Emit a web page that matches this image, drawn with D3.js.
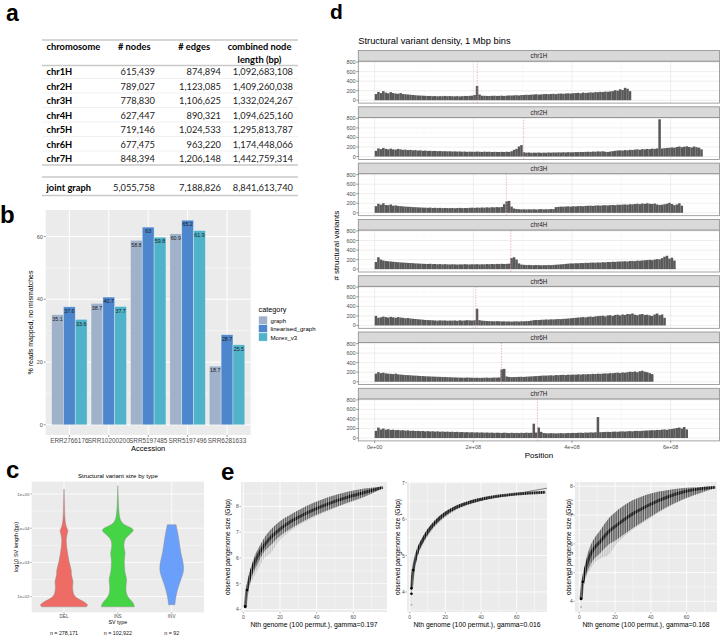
<!DOCTYPE html>
<html><head><meta charset="utf-8">
<script src="https://cdn.jsdelivr.net/npm/d3@7"></script>
<style>body{margin:0;background:#fff}svg{display:block;font-family:"Liberation Sans",Arial,sans-serif}</style>
</head><body><svg width="722" height="637"></svg>
<script>
// ================= DATA =================
// (a) table
const tableHeaders = ["chromosome", "# nodes", "# edges", "combined node", "length (bp)"];
const tableChrom = ["chr1H", "chr2H", "chr3H", "chr4H", "chr5H", "chr6H", "chr7H"];
const tableNodes = [615439, 789027, 778830, 627447, 719146, 677475, 848394];
const tableEdges = [874894, 1123085, 1106625, 890321, 1024533, 963220, 1206148];
const tableLength = [1092683108, 1409260038, 1332024267, 1094625160, 1295813787, 1174448066, 1442759314];
const jointLabel = "joint graph";
const jointNodes = 5055758, jointEdges = 7188826, jointLength = 8841613740;

// (b) grouped bars
const accessions = ["ERR2766176", "SRR10200200", "SRR5197485", "SRR5197496", "SRR6281633"];
const categories = ["graph", "linearised_graph", "Morex_v3"];
const graphVals = [35.1, 38.7, 58.8, 60.9, 18.7];
const linearisedVals = [37.6, 40.7, 63, 65.2, 28.7];
const morexVals = [33.6, 37.7, 59.8, 61.9, 25.5];
const bYTicks = [0, 20, 40, 60];

// (c) violins: [log10 length, relative density]
const svTypes = ["DEL", "INS", "INV"];
const svCounts = ["n = 278,171", "n = 102,922", "n = 92"];
const delProfile = [[1.70,0.92],[1.75,1.0],[1.82,0.9],[1.9,0.68],[1.97,0.5],[2.05,0.4],[2.15,0.37],[2.25,0.35],[2.35,0.36],[2.45,0.38],[2.55,0.33],[2.65,0.3],[2.75,0.31],[2.85,0.27],[2.95,0.24],[3.05,0.2],[3.15,0.18],[3.3,0.14],[3.45,0.11],[3.6,0.09],[3.75,0.1],[3.85,0.14],[3.93,0.17],[4.0,0.12],[4.1,0.07],[4.25,0.04],[4.5,0.025],[4.8,0.015],[5.1,0.008],[5.15,0]];
const insProfile = [[1.70,0.68],[1.8,0.66],[1.9,0.52],[2.0,0.40],[2.1,0.35],[2.2,0.33],[2.35,0.34],[2.5,0.37],[2.6,0.33],[2.75,0.28],[2.9,0.27],[3.05,0.26],[3.2,0.29],[3.3,0.30],[3.4,0.26],[3.55,0.24],[3.7,0.30],[3.8,0.45],[3.88,0.6],[3.95,0.66],[4.02,0.55],[4.1,0.25],[4.2,0.12],[4.35,0.06],[4.6,0.03],[5.0,0.012],[5.25,0]];
const invProfile = [[1.76,0.13],[1.9,0.15],[2.1,0.2],[2.3,0.28],[2.5,0.38],[2.65,0.46],[2.8,0.5],[2.95,0.48],[3.1,0.44],[3.3,0.37],[3.5,0.33],[3.7,0.29],[3.9,0.24],[4.1,0.18]];
const cYTicks = [2, 3, 4, 5];
const cYTickLabels = ["1e+02", "1e+03", "1e+04", "1e+05"];

// (d) SV density, values per bin (each entry = 5 Mbp of the 1 Mbp-bin track)
const binMbp = 5;
const densChroms = ["chr1H", "chr2H", "chr3H", "chr4H", "chr5H", "chr6H", "chr7H"];
const centromereMbp = [208, 302, 267, 276, 205, 257, 330];
const chr1H = [130,175,150,190,160,145,170,150,140,135, 150,130,125,120,115,110,105,100,98,95, 92,88,90,85,88,82,86,84,90,85, 88,84,82,86,80,85,90,88,92,95, 110,300,120,95,92,90,88,92,94,90, 92,95,90,96,100,98,102,105,100,108, 110,115,112,118,120,125,118,122,128,130, 126,132,135,128,138,140,135,142,145,140, 148,150,155,145,160,152,158,165,160,170, 168,175,172,180,178,185,190,210,200,230, 215,260,240,190];
const chr2H = [120,170,155,180,160,150,165,150,145,160, 150,140,145,135,140,130,135,125,130,120, 125,118,120,115,118,112,115,110,112,108, 110,105,108,104,106,100,104,98,102,100, 98,104,100,96,102,98,100,95,98,96, 94,98,95,100,96,110,140,160,210,240, 90,80,85,78,82,80,84,78,82,80, 85,82,86,84,88,85,90,86,92,88, 90,94,92,96,94,98,100,96,104,100, 108,104,110,100,96,104,112,120,126,130, 125,135,130,140,138,145,150,142,155,150, 160,155,165,160,170,780,168,175,180,185, 190,185,200,210,195,205,215,200,190,210,195,185,150];
const chr3H = [140,190,170,200,165,160,175,150,155,145, 140,135,130,128,125,120,118,115,112,110, 108,105,110,102,106,100,104,98,102,100, 98,102,96,100,104,98,102,100,105,108, 104,110,106,112,108,115,110,118,114,120, 116,122,180,240,250,130,90,80,76,72, 75,70,74,72,76,70,74,78,72,76, 74,80,78,120,125,130,128,132,135,130, 138,135,140,142,138,145,148,150,145,152, 155,150,158,160,155,162,165,160,170,168, 172,175,170,180,178,185,190,182,195,188, 200,190,185,195,175,165,170,180,190,210, 185,160,175,200,150];
const chr4H = [150,250,200,180,170,165,160,155,150,145, 140,138,135,130,128,125,120,118,115,112, 110,108,112,105,108,102,106,100,104,100, 98,102,100,96,100,98,104,100,98,102, 100,104,98,102,100,106,102,108,104,110, 106,112,108,110,115,230,250,200,120,95, 90,85,88,84,82,86,84,80,84,82, 86,84,88,92,96,100,104,110,115,120, 118,124,122,128,126,132,130,135,138,134, 140,138,145,142,150,148,155,152,158,160, 162,165,160,170,172,168,178,175,182,185, 190,195,188,200,210,205,230,260,280,220, 240,180];
const chr5H = [200,160,170,185,175,165,180,170,160,175, 165,160,150,155,145,140,135,130,125,120, 115,112,110,108,104,100,106,102,104,98, 102,100,104,96,108,100,104,110,106,102, 108,350,110,100,96,92,90,88,86,90, 88,84,86,82,84,80,84,86,82,88, 86,90,92,100,110,115,112,118,120,125, 122,128,126,130,135,132,138,140,145,150, 155,160,165,170,175,168,180,185,178,190, 195,200,205,190,210,215,200,220,225,210, 230,220,240,235,250,225,215,230,240,220, 225,210,200,230,250,215,230,160];
const chr6H = [170,200,180,190,175,170,165,160,170,155, 150,145,140,138,135,130,128,125,120,118, 115,112,110,108,106,104,102,100,98,96, 94,92,90,88,86,85,84,88,86,84, 82,84,80,82,84,86,82,84,88,86, 90,260,270,110,100,96,98,100,102,104, 100,106,108,112,115,118,122,125,130,128, 132,135,130,140,138,142,145,140,148,145, 150,148,155,150,158,155,160,158,165,162, 168,165,170,175,172,180,178,185,190,182, 195,190,200,210,205,215,200,220,230,210, 200,180,160];
const chr7H = [150,220,180,200,175,185,170,175,165,170, 160,165,155,160,150,155,148,150,145,148, 140,145,138,142,135,140,132,136,130,134, 128,132,125,130,122,126,120,124,118,122, 116,120,114,118,112,116,110,114,108,112, 110,106,112,108,104,110,106,108,104,110, 106,112,108,110,300,115,220,130,105,100, 98,102,100,96,100,104,98,102,106,104, 108,106,110,112,108,115,112,118,115,120, 440,122,125,128,130,126,132,135,130,138, 140,136,142,145,140,148,150,146,152,155, 158,160,165,162,170,168,175,180,172,185, 190,200,210,220,200,230,180];
const densValues = [chr1H, chr2H, chr3H, chr4H, chr5H, chr6H, chr7H];
const dYTicks = [0, 200, 400, 600, 800];
const dXTicksMbp = [0, 200, 400, 600];
const dXTickLabels = ["0e+00", "2e+08", "4e+08", "6e+08"];

// (e) pangenome growth (100 permutations): band summaries read at knots
const e1N     = [1, 2, 3, 4, 6, 8, 11, 15, 20, 25, 30, 38, 47, 57, 66, 76];
const e1Core  = [4.12, 4.75, 5.1, 5.4, 5.8, 6.1, 6.45, 6.8, 7.12, 7.38, 7.58, 7.86, 8.12, 8.36, 8.54, 8.74];
const e1High  = [4.15, 4.85, 5.3, 5.6, 6.05, 6.35, 6.73, 7.1, 7.43, 7.65, 7.85, 8.13, 8.38, 8.57, 8.7, 8.77];
const e1Low   = [4.1, 4.65, 4.9, 5.15, 5.5, 5.8, 6.2, 6.5, 6.85, 7.1, 7.32, 7.62, 7.88, 8.15, 8.38, 8.71];
const e1Faint = [4.1, 4.6, 4.8, 5.0, 5.3, 5.55, 5.95, 6.2, 6.7, 7.0, 7.25, 7.55, 7.85, 8.12, 8.36, 8.7];
const e2N     = [1, 2, 3, 4, 5, 7, 10, 13, 18, 25, 34, 43, 52, 60, 68, 76];
const e2Core  = [4.1, 4.6, 4.85, 5.05, 5.2, 5.4, 5.65, 5.84, 6.08, 6.3, 6.47, 6.58, 6.65, 6.69, 6.72, 6.74];
const e2High  = [4.15, 4.66, 4.93, 5.13, 5.28, 5.48, 5.73, 5.91, 6.14, 6.35, 6.51, 6.61, 6.67, 6.71, 6.74, 6.76];
const e2Low   = [3.95, 4.5, 4.75, 4.95, 5.1, 5.3, 5.55, 5.75, 6.0, 6.24, 6.42, 6.54, 6.62, 6.66, 6.7, 6.72];
const e2Faint = [3.65, 4.45, 4.7, 4.9, 5.05, 5.25, 5.5, 5.72, 5.97, 6.22, 6.4, 6.53, 6.61, 6.65, 6.69, 6.71];
const e2FitN  = [1, 2, 4, 7, 10, 15, 20, 30, 40, 50, 60, 70, 77];
const e2FitY  = [4.38, 4.62, 5.0, 5.35, 5.6, 5.92, 6.13, 6.38, 6.52, 6.62, 6.7, 6.79, 6.85];
const e3N     = [1, 2, 3, 4, 6, 8, 12, 16, 21, 26, 30, 35, 40, 49, 58, 68, 76];
const e3Core  = [4.1, 4.68, 5.0, 5.25, 5.6, 5.82, 6.1, 6.4, 6.65, 6.88, 7.05, 7.22, 7.38, 7.62, 7.8, 7.92, 7.97];
const e3High  = [4.12, 4.75, 5.2, 5.5, 5.9, 6.15, 6.5, 6.85, 7.15, 7.38, 7.52, 7.65, 7.75, 7.86, 7.94, 7.97, 7.99];
const e3Low   = [4.08, 4.55, 4.75, 4.95, 5.25, 5.45, 5.7, 5.95, 6.15, 6.38, 6.55, 6.75, 6.95, 7.28, 7.55, 7.78, 7.93];
const e3Faint = [3.8, 4.45, 4.65, 4.85, 5.1, 5.3, 5.5, 5.6, 6.0, 6.3, 6.5, 6.7, 6.9, 7.25, 7.52, 7.76, 7.92];
const eGammas = ["0.197", "0.016", "0.168"];
const eXTicks = [0, 20, 40, 60];

// ================= DRAWING =================
const svg = d3.select("svg");
const fmt = d3.format(",");
function T(g, x, y, s, o = {}) {
  const t = g.append("text").attr("x", x).attr("y", y).text(s)
    .attr("font-size", o.size || 6).attr("fill", o.fill || "#000")
    .attr("text-anchor", o.anchor || "start");
  if (o.weight) t.attr("font-weight", o.weight);
  if (o.family) t.attr("font-family", o.family);
  if (o.central) t.attr("dominant-baseline", "central");
  if (o.rotate) t.attr("transform", `rotate(-90,${x},${y})`);
  return t;
}
function L(g, x1, y1, x2, y2, stroke, w) {
  return g.append("line").attr("x1", x1).attr("y1", y1).attr("x2", x2).attr("y2", y2)
    .attr("stroke", stroke).attr("stroke-width", w);
}
const GREY = "#4d4d4d";

// panel letters
[["a", 6, 21, 23], ["b", 0, 223, 24], ["c", 6, 478, 24], ["d", 330, 19, 21], ["e", 221, 480, 24]].forEach(([s, x, y, f]) =>
  T(svg, x, y, s, { size: f, weight: "bold" }));

// ---------- (a) table ----------
(function () {
  const g = svg.append("g").attr("font-family", "Lato, 'Open Sans', sans-serif");
  const TF = 9.3;
  [40, 65.5, 165, 177, 195.5].forEach(y => L(g, 42, y, 298, y, "#c9c9c9", 1.6));
  for (let i = 0; i < 6; i++) L(g, 42, 78.5 + i * 14.5, 298, 78.5 + i * 14.5, "#ececec", 0.8);
  T(g, 46.5, 46, tableHeaders[0], { size: TF, weight: "bold", central: 1 });
  T(g, 150.5, 46, tableHeaders[1], { size: TF, weight: "bold", anchor: "end", central: 1 });
  T(g, 210, 46, tableHeaders[2], { size: TF, weight: "bold", anchor: "end", central: 1 });
  T(g, 259.5, 46, tableHeaders[3], { size: TF, weight: "bold", anchor: "middle", central: 1 });
  T(g, 259.5, 59, tableHeaders[4], { size: TF, weight: "bold", anchor: "middle", central: 1 });
  tableChrom.forEach((c, i) => {
    const y = 71.5 + i * 14.5;
    T(g, 46.5, y, c, { size: TF, weight: "bold", central: 1 });
    T(g, 155, y, fmt(tableNodes[i]), { size: TF, anchor: "end", central: 1, fill: "#222" });
    T(g, 221, y, fmt(tableEdges[i]), { size: TF, anchor: "end", central: 1, fill: "#222" });
    T(g, 293, y, fmt(tableLength[i]), { size: TF, anchor: "end", central: 1, fill: "#222" });
  });
  T(g, 46.5, 187, jointLabel, { size: TF, weight: "bold", central: 1 });
  T(g, 155, 187, fmt(jointNodes), { size: TF, anchor: "end", central: 1, fill: "#222" });
  T(g, 221, 187, fmt(jointEdges), { size: TF, anchor: "end", central: 1, fill: "#222" });
  T(g, 293, 187, fmt(jointLength), { size: TF, anchor: "end", central: 1, fill: "#222" });
})();

// ---------- (b) grouped bars ----------
(function () {
  const g = svg.append("g");
  const X0 = 45.7, X1 = 250.7, Y0 = 210, Y1 = 435;
  const x = d3.scaleBand().domain(accessions).range([X0, X1]).paddingInner(0.1).paddingOuter(0.15);
  const xi = d3.scaleBand().domain(categories).range([0, x.bandwidth()]);
  const y = d3.scaleLinear().domain([-3.26, 68.46]).range([Y1, Y0]);
  const col = d3.scaleOrdinal().domain(categories).range(["#9fb2c9", "#4d86cc", "#50b3c9"]);
  g.append("rect").attr("x", X0).attr("y", Y0).attr("width", X1 - X0).attr("height", Y1 - Y0).attr("fill", "#ebebeb");
  [10, 30, 50].forEach(v => L(g, X0, y(v), X1, y(v), "#fff", 0.5));
  bYTicks.forEach(v => L(g, X0, y(v), X1, y(v), "#fff", 1));
  accessions.forEach(a => L(g, x(a) + x.bandwidth() / 2, Y0, x(a) + x.bandwidth() / 2, Y1, "#fff", 1));
  const series = [graphVals, linearisedVals, morexVals];
  accessions.forEach((a, i) => {
    categories.forEach((c, k) => {
      const v = series[k][i];
      g.append("rect").attr("x", x(a) + xi(c)).attr("width", xi.bandwidth())
        .attr("y", y(v)).attr("height", y(0) - y(v)).attr("fill", col(c))
        .attr("stroke", "rgba(255,255,255,0.45)").attr("stroke-width", 0.7);
      T(g, x(a) + xi(c) + xi.bandwidth() / 2, y(v) + 4.2, String(v), { size: 5.3, anchor: "middle", central: 1, fill: "#1a1a1a" });
    });
  });
  bYTicks.forEach(v => { L(g, X0 - 2, y(v), X0, y(v), "#333", 0.5); T(g, X0 - 2.8, y(v), String(v), { size: 5.5, anchor: "end", central: 1, fill: GREY }); });
  accessions.forEach(a => {
    const cx = x(a) + x.bandwidth() / 2;
    L(g, cx, Y1, cx, Y1 + 2, "#333", 0.5);
    T(g, cx, Y1 + 5.5, a, { size: 6.4, anchor: "middle", central: 1, fill: GREY });
  });
  T(g, (X0 + X1) / 2, 448.5, "Accession", { size: 7.5, anchor: "middle", central: 1 });
  T(g, 30, (Y0 + Y1) / 2, "% reads mapped, no mismatches", { size: 7, anchor: "middle", central: 1, rotate: 1 });
  // legend
  T(g, 258.5, 309.5, "category", { size: 7.3, central: 1 });
  categories.forEach((c, k) => {
    g.append("rect").attr("x", 258.5).attr("y", 316 + k * 8.4).attr("width", 9).attr("height", 8.4)
      .attr("fill", col(c)).attr("stroke", "#fff").attr("stroke-width", 0.6);
    T(g, 270.5, 320.2 + k * 8.4, c, { size: 6.1, central: 1 });
  });
})();

// ---------- (c) violins ----------
(function () {
  const g = svg.append("g");
  const X0 = 31.7, X1 = 204, Y0 = 481.7, Y1 = 612.3;
  const x = d3.scalePoint().domain(svTypes).range([X0, X1]).padding(0.6);
  const y = d3.scaleLinear().domain([1.54, 5.36]).range([Y1, Y0]);
  const w = d3.scaleLinear().domain([0, 1]).range([0, 24.2]);
  g.append("rect").attr("x", X0).attr("y", Y0).attr("width", X1 - X0).attr("height", Y1 - Y0).attr("fill", "#ebebeb");
  [2.5, 3.5, 4.5].forEach(v => L(g, X0, y(v), X1, y(v), "#fff", 0.4));
  cYTicks.forEach(v => L(g, X0, y(v), X1, y(v), "#fff", 0.8));
  svTypes.forEach(t => L(g, x(t), Y0, x(t), Y1, "#fff", 0.8));
  const profiles = [delProfile, insProfile, invProfile];
  const fills = ["#ef6b65", "#45d445", "#6a9ffc"];
  svTypes.forEach((t, i) => {
    const cx = x(t);
    const area = d3.area().y(d => y(d[0])).x0(d => cx - w(d[1])).x1(d => cx + w(d[1])).curve(d3.curveBasis);
    g.append("path").attr("d", area(profiles[i])).attr("fill", fills[i]).attr("stroke", "#8a8a8a").attr("stroke-width", 0.45);
  });
  cYTicks.forEach((v, i) => { L(g, X0 - 1.5, y(v), X0, y(v), "#333", 0.4); T(g, X0 - 2.3, y(v), cYTickLabels[i], { size: 4.3, anchor: "end", central: 1, fill: GREY }); });
  svTypes.forEach((t, i) => {
    L(g, x(t), Y1, x(t), Y1 + 1.5, "#333", 0.4);
    T(g, x(t), Y1 + 4.3, t, { size: 4.6, anchor: "middle", central: 1, fill: GREY });
    T(g, x(t), 633, svCounts[i], { size: 5.3, anchor: "middle", central: 1, fill: "#111" });
  });
  T(g, (X0 + X1) / 2, 475, "Structural variant size by type", { size: 6.1, anchor: "middle", central: 1 });
  T(g, (X0 + X1) / 2, 622, "SV type", { size: 5.3, anchor: "middle", central: 1 });
  T(g, 15.5, (Y0 + Y1) / 2, "log10 SV length (bp)", { size: 5.5, anchor: "middle", central: 1, rotate: 1 });
})();

// ---------- (d) SV density facets ----------
(function () {
  const g = svg.append("g");
  const X0 = 358.3, X1 = 719.5;
  const x = d3.scaleLinear().domain([-33.2, 699]).range([X0, X1]);
  const pitch = 56.3, stripH = 10.6, panelH = 42;
  T(g, X0, 41, "Structural variant density, 1 Mbp bins", { size: 9.3, central: 1 });
  densChroms.forEach((name, i) => {
    const st = 50.5 + i * pitch, pt = st + stripH, pb = pt + panelH;
    const y = d3.scaleLinear().domain([-60, 820]).range([pb, pt]);
    g.append("rect").attr("x", X0).attr("y", pt).attr("width", X1 - X0).attr("height", panelH).attr("fill", "#fff");
    [100, 300, 500].forEach(v => L(g, x(v), pt, x(v), pb, "#f3f3f3", 0.4));
    [100, 300, 500, 700].forEach(v => L(g, X0, y(v), X1, y(v), "#f3f3f3", 0.4));
    dXTicksMbp.forEach(v => L(g, x(v), pt, x(v), pb, "#e6e6e6", 0.7));
    dYTicks.forEach(v => L(g, X0, y(v), X1, y(v), "#e6e6e6", 0.7));
    const vals = densValues[i];
    g.append("g").selectAll("rect").data(vals).join("rect")
      .attr("x", (d, j) => x(j * binMbp)).attr("width", x(binMbp) - x(0) + 0.05)
      .attr("y", d => y(d)).attr("height", d => y(0) - y(d)).attr("fill", "#595959");
    L(g, x(centromereMbp[i]), pt, x(centromereMbp[i]), pb, "#f08a8a", 0.6).attr("stroke-dasharray", "1.5,1.2");
    g.append("rect").attr("x", X0).attr("y", pt).attr("width", X1 - X0).attr("height", panelH)
      .attr("fill", "none").attr("stroke", "#8c8c8c").attr("stroke-width", 0.8);
    g.append("rect").attr("x", X0).attr("y", st).attr("width", X1 - X0).attr("height", stripH)
      .attr("fill", "#d9d9d9").attr("stroke", "#8c8c8c").attr("stroke-width", 0.8);
    T(g, (X0 + X1) / 2, st + stripH / 2, name, { size: 6.3, anchor: "middle", central: 1, fill: "#1a1a1a" });
    dYTicks.forEach(v => { L(g, X0 - 2, y(v), X0, y(v), "#333", 0.5); T(g, X0 - 2.6, y(v), String(v), { size: 5.5, anchor: "end", central: 1, fill: GREY }); });
    if (i === densChroms.length - 1) {
      dXTicksMbp.forEach((v, k) => { L(g, x(v), pb, x(v), pb + 2, "#333", 0.5); T(g, x(v), pb + 6, dXTickLabels[k], { size: 5.5, anchor: "middle", central: 1, fill: GREY }); });
      T(g, (X0 + X1) / 2, pb + 14.5, "Position", { size: 8, anchor: "middle", central: 1 });
    }
  });
  T(g, 337, 50.5 + (6 * pitch + stripH + panelH) / 2, "# structural variants", { size: 8, anchor: "middle", central: 1, rotate: 1 });
})();

// ---------- (e) pangenome growth ----------
(function () {
  const defs = svg.append("defs");
  const plots = [
    { X0: 241, X1: 387, xd: [-1.3, 78.4], yd: [3.9, 8.95], yt: [4, 5, 6, 7, 8], yx: 227, N: e1N, core: e1Core, hi: e1High, lo: e1Low, faint: e1Faint },
    { X0: 407, X1: 547, xd: [-1.5, 77], yd: [3.45, 7.02], yt: [4, 5, 6, 7], yx: 397, N: e2N, core: e2Core, hi: e2High, lo: e2Low, faint: e2Faint, fitN: e2FitN, fitY: e2FitY },
    { X0: 575, X1: 717, xd: [-2.4, 77], yd: [3.63, 8.15], yt: [4, 5, 6, 7, 8], yx: 568, N: e3N, core: e3Core, hi: e3High, lo: e3Low, faint: e3Faint }
  ];
  const Y0 = 482, Y1 = 612;
  plots.forEach((p, pi) => {
    const g = svg.append("g");
    const x = d3.scaleLinear().domain(p.xd).range([p.X0, p.X1]);
    const y = d3.scaleLinear().domain(p.yd).range([Y1, Y0]);
    const step = x(1) - x(0);
    const mk = (id, op, wd) => {
      const pat = defs.append("pattern").attr("id", id).attr("patternUnits", "userSpaceOnUse")
        .attr("x", x(0) - wd / 2).attr("y", 0).attr("width", step).attr("height", 4);
      pat.append("rect").attr("width", wd).attr("height", 4).attr("fill", "#000").attr("opacity", op);
    };
    mk("pl" + pi, 0.18, 1.0); mk("pm" + pi, 0.5, 1.1); mk("pd" + pi, 0.85, 1.2);
    g.append("rect").attr("x", p.X0).attr("y", Y0).attr("width", p.X1 - p.X0).attr("height", Y1 - Y0).attr("fill", "#ebebeb");
    const yMinor = d3.range(Math.ceil(p.yd[0] * 2) / 2, p.yd[1], 0.5).filter(v => v % 1 !== 0);
    yMinor.forEach(v => L(g, p.X0, y(v), p.X1, y(v), "#fff", 0.4));
    [10, 30, 50, 70].forEach(v => L(g, x(v), Y0, x(v), Y1, "#fff", 0.4));
    p.yt.forEach(v => L(g, p.X0, y(v), p.X1, y(v), "#fff", 0.8));
    eXTicks.forEach(v => L(g, x(v), Y0, x(v), Y1, "#fff", 0.8));
    const pts = (a, b) => p.N.map((n, k) => [n, a[k], b[k]]);
    const area = d3.area().x(d => x(d[0])).y0(d => y(d[1])).y1(d => y(d[2])).curve(d3.curveMonotoneX);
    g.append("path").attr("d", area(pts(p.faint, p.hi))).attr("fill", "url(#pl" + pi + ")");
    g.append("path").attr("d", area(pts(p.lo, p.hi))).attr("fill", "url(#pm" + pi + ")");
    g.append("path").attr("d", area(pts(p.lo, p.hi))).attr("fill", "rgba(0,0,0,0.1)");
    const line = d3.line().x((d, k) => x(p.N[k])).y(d => y(d)).curve(d3.curveMonotoneX);
    g.append("path").attr("d", line(p.core)).attr("fill", "none").attr("stroke", "url(#pd" + pi + ")").attr("stroke-width", 3);
    if (p.fitN) {
      const fl = d3.line().x((d, k) => x(p.fitN[k])).y(d => y(d)).curve(d3.curveMonotoneX);
      g.append("path").attr("d", fl(p.fitY)).attr("fill", "none").attr("stroke", "#333").attr("stroke-width", 0.6);
    }
    [[p.N[0], p.core[0]], [p.N[0], p.lo[0]], [p.N[1], p.core[1]]].forEach(d =>
      g.append("circle").attr("cx", x(d[0])).attr("cy", y(d[1])).attr("r", 1.3).attr("fill", "#000"));
    g.append("circle").attr("cx", x(p.N[0])).attr("cy", y(p.faint[0])).attr("r", 1).attr("fill", "rgba(0,0,0,0.25)");
    p.yt.forEach(v => { L(g, p.X0 - 1.5, y(v), p.X0, y(v), "#333", 0.4); T(g, p.X0 - 2.3, y(v), String(v), { size: 5, anchor: "end", central: 1, fill: GREY }); });
    eXTicks.forEach(v => { L(g, x(v), Y1, x(v), Y1 + 1.5, "#333", 0.4); T(g, x(v), Y1 + 5, String(v), { size: 5, anchor: "middle", central: 1, fill: GREY }); });
    T(g, (p.X0 + p.X1) / 2, 624.5, "Nth genome (100 permut.), gamma=" + eGammas[pi], { size: 6.8, anchor: "middle", central: 1 });
    T(g, p.yx, (Y0 + Y1) / 2, "observed pangenome size (Gbp)", { size: 6.6, anchor: "middle", central: 1, rotate: 1 });
  });
})();
</script></body></html>
